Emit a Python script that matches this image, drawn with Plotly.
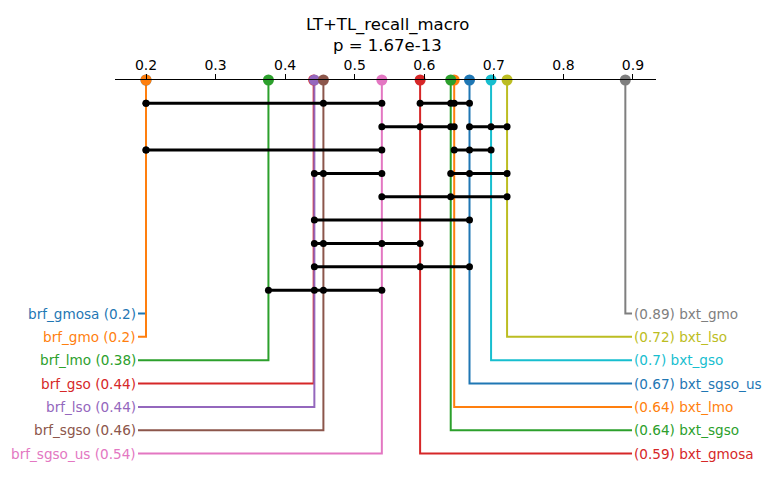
import plotly.graph_objects as go

# ---- data ----
left_names = ["brf_gmosa", "brf_gmo", "brf_lmo", "brf_gso", "brf_lso", "brf_sgso", "brf_sgso_us"]
left_values = [0.200, 0.200, 0.376, 0.441, 0.442, 0.455, 0.539]
right_names = ["bxt_gmo", "bxt_lso", "bxt_gso", "bxt_sgso_us", "bxt_lmo", "bxt_sgso", "bxt_gmosa"]
right_values = [0.889, 0.719, 0.696, 0.665, 0.643, 0.638, 0.594]

left_colors = ["#1f77b4", "#ff7f0e", "#2ca02c", "#d62728", "#9467bd", "#8c564b", "#e377c2"]
right_colors = ["#7f7f7f", "#bcbd22", "#17becf", "#1f77b4", "#ff7f0e", "#2ca02c", "#d62728"]

# crossbars: list of levels, each level a list of cliques (member names)
crossbar_levels = [
    [["brf_gmosa", "brf_gmo", "brf_sgso", "brf_sgso_us"], ["bxt_gmosa", "bxt_sgso", "bxt_lmo", "bxt_sgso_us"]],
    [["brf_sgso_us", "bxt_gmosa", "bxt_sgso", "bxt_lmo"], ["bxt_sgso_us", "bxt_gso", "bxt_lso"]],
    [["brf_gmosa", "brf_gmo", "brf_sgso_us"], ["bxt_lmo", "bxt_sgso_us", "bxt_gso"]],
    [["brf_lso", "brf_sgso", "brf_sgso_us"], ["bxt_sgso", "bxt_sgso_us", "bxt_lso"]],
    [["brf_sgso_us", "bxt_sgso", "bxt_lso"]],
    [["brf_lso", "bxt_sgso_us"]],
    [["brf_lso", "brf_sgso", "brf_sgso_us", "bxt_gmosa"]],
    [["brf_lso", "bxt_gmosa", "bxt_sgso_us"]],
    [["brf_lmo", "brf_lso", "brf_sgso", "brf_sgso_us"]],
]

tick_vals = [0.2, 0.3, 0.4, 0.5, 0.6, 0.7, 0.8, 0.9]
tick_text = ["0.2", "0.3", "0.4", "0.5", "0.6", "0.7", "0.8", "0.9"]
title_text = "LT+TL_recall_macro"
subtitle_text = "p = 1.67e-13"

# ---- layout constants ----
W, H = 774, 487
X_RANGE = [0.15544, 0.93307]
X_DOMAIN = [115 / W, 656 / W]
AXIS_TOP_PX = 80
ROW_PX = 23.35
Y_MAX = (H - AXIS_TOP_PX) / ROW_PX
LEFT_END = 0.1885
RIGHT_END = 0.8986
FONT = "DejaVu Sans"

value_of = dict(zip(left_names + right_names, left_values + right_values))

fig = go.Figure()

label_row0 = len(crossbar_levels) + 1
annotations = []

# elbow lines
for i, (n, v, c) in enumerate(zip(left_names, left_values, left_colors)):
    row = label_row0 + i
    fig.add_trace(go.Scatter(x=[v, v, LEFT_END], y=[0, row, row], mode="lines",
                             line=dict(color=c, width=2), hoverinfo="skip"))
    annotations.append(dict(x=LEFT_END, y=row, xref="x", yref="y", text=f"{n} ({round(v, 2):g})",
                            showarrow=False, xanchor="right", yanchor="middle", xshift=0,
                            font=dict(family=FONT, size=13.6, color=c)))
for i, (n, v, c) in enumerate(zip(right_names, right_values, right_colors)):
    row = label_row0 + i
    fig.add_trace(go.Scatter(x=[v, v, RIGHT_END], y=[0, row, row], mode="lines",
                             line=dict(color=c, width=2), hoverinfo="skip"))
    annotations.append(dict(x=RIGHT_END, y=row, xref="x", yref="y", text=f"({round(v, 2):g}) {n}",
                            showarrow=False, xanchor="left", yanchor="middle", xshift=0,
                            font=dict(family=FONT, size=13.6, color=c)))

# crossbars
for lvl, cliques in enumerate(crossbar_levels):
    for clique in cliques:
        xs = sorted(value_of[m] for m in clique)
        fig.add_trace(go.Scatter(x=xs, y=[lvl + 1] * len(xs), mode="lines+markers",
                                 line=dict(color="black", width=3),
                                 marker=dict(color="black", size=7),
                                 hoverinfo="skip"))

# markers on axis
for v, c in zip(left_values + right_values, left_colors + right_colors):
    fig.add_trace(go.Scatter(x=[v], y=[0], mode="markers", cliponaxis=False,
                             marker=dict(color=c, size=11, line=dict(width=0)),
                             hoverinfo="skip"))

annotations.append(dict(x=0.5, y=1 - 25 / H, xref="paper", yref="paper", text=title_text,
                        showarrow=False, xanchor="center", yanchor="middle",
                        font=dict(family=FONT, size=16.5, color="black")))
annotations.append(dict(x=0.5, y=1 - 46 / H, xref="paper", yref="paper", text=subtitle_text,
                        showarrow=False, xanchor="center", yanchor="middle",
                        font=dict(family=FONT, size=16.5, color="black")))

fig.update_layout(
    width=W, height=H, margin=dict(l=0, r=0, t=0, b=0),
    paper_bgcolor="white", plot_bgcolor="white", showlegend=False,
    annotations=annotations,
    xaxis=dict(range=X_RANGE, domain=X_DOMAIN, side="top", showline=True, linecolor="black",
               linewidth=1, ticks="outside", ticklen=5, tickwidth=1, tickcolor="black",
               tickvals=tick_vals, ticktext=tick_text, showgrid=False, zeroline=False,
               ticklabelstandoff=-2,
               tickfont=dict(family=FONT, size=14, color="black"), automargin=False),
    yaxis=dict(range=[Y_MAX, 0], domain=[0, 1 - AXIS_TOP_PX / H], visible=False,
               showgrid=False, zeroline=False, automargin=False),
)

fig.write_html("out.html")
